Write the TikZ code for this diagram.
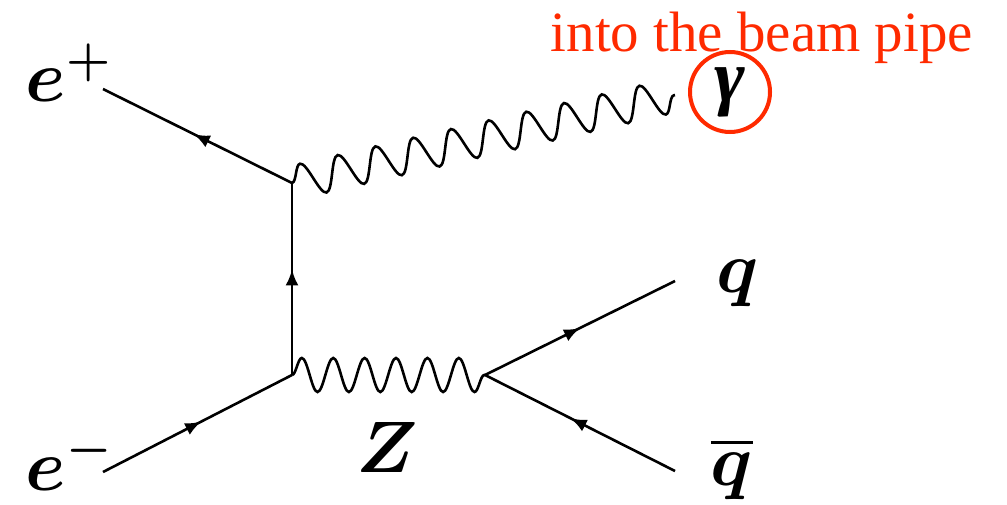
\documentclass[tikz,border=0pt]{standalone}
\usepackage{fontspec}
\usepackage{amsmath}
\usetikzlibrary{arrows.meta,positioning,decorations.pathmorphing,decorations.markings}
\newfontfamily\notefont{Liberation Serif}
\definecolor{fdInk}{HTML}{000000}
\definecolor{fdRed}{HTML}{FF2A00}
\tikzset{
  % Fermion line, arrow in the middle
  fline/.style={draw=fdInk,line width=0.26mm,postaction={decorate},
    decoration={markings,mark=at position #1 with {\arrow{Latex[length=1.6mm,width=1.3mm]}}}},
  fline/.default=0.55,
  % Boson line (wavy)
  bline/.style={draw=fdInk,line width=0.26mm,decorate,
    decoration={snake,amplitude=1.7mm,segment length=#1}},
  % Particle label
  plbl/.style={inner sep=0pt,font=\fontsize{20}{24}\selectfont\boldmath,text=fdInk},
  % Red note
  note/.style={inner sep=0pt,font=\notefont\fontsize{16.2}{19}\selectfont,text=fdRed},
}
\begin{document}
\begin{tikzpicture}[x=0.1mm,y=-0.1mm]
  \useasboundingbox (0,0) rectangle (1007,505);

  % Vertices and free ends
  \coordinate (vtop) at (292,183);
  \coordinate (vbot) at (292,375);
  \coordinate (vz) at (485,375);
  \coordinate (epend) at (103,89);
  \coordinate (emend) at (103,472);
  \coordinate (gend) at (675,95);
  \coordinate (qend) at (675,281);
  \coordinate (qbend) at (675,471);

  % Fermions
  \draw[fline=0.52] (vtop) -- (epend);
  \draw[fline=0.52] (emend) -- (vbot);
  \draw[fline=0.55] (vbot) -- (vtop);
  \draw[fline=0.5] (vz) -- (qend);
  \draw[fline=0.55] (qbend) -- (vz);

  % Bosons
  \draw[bline=3.14mm] (vbot) -- (vz);
  \draw[bline=3.87mm] (vtop) -- (gend);

  % Labels
  \node[plbl,anchor=base west] (lep) at (25,102) {$e^{+}$};
  \node[plbl,anchor=base west] (lem) at (25,490) {$e^{-}$};
  \node[plbl,anchor=base] (lz) at (387,472) {$Z$};
  \node[plbl,anchor=base] (lq) at (738,292) {$q$};
  \node[plbl,anchor=base] (lqb) at (732,485) {$\overline{q}$};
  \node[plbl,circle,draw=fdRed,line width=0.4mm,minimum size=8mm] (lgam) at (730,92)
    {\notefont\fontsize{21}{24}\selectfont\bfseries\itshape γ};

  % Note
  \node[note,anchor=base west] (beam) at (550,52) {into the beam pipe};
\end{tikzpicture}
\end{document}
